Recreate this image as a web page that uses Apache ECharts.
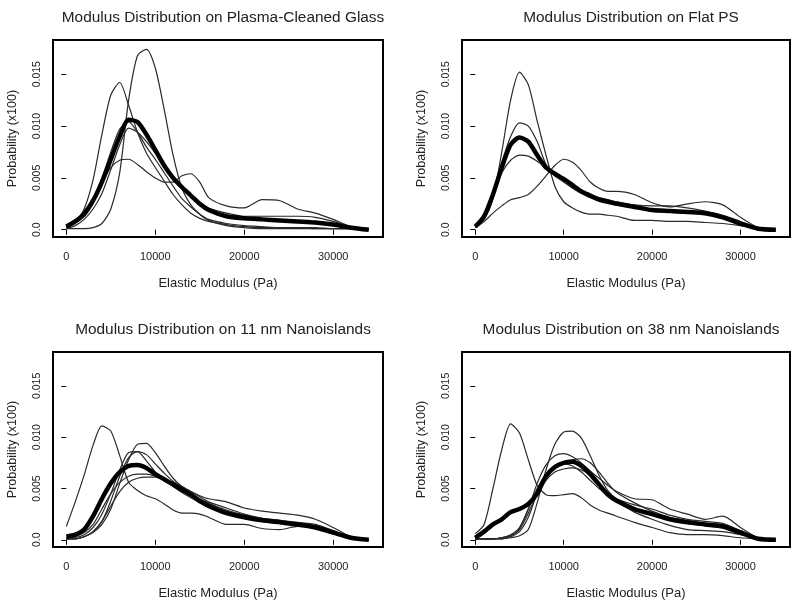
<!DOCTYPE html>
<html>
<head>
<meta charset="utf-8">
<script src="https://cdn.jsdelivr.net/npm/echarts@6/dist/echarts.min.js"></script>
<style>html,body{margin:0;padding:0;background:#fff}#c{width:800px;height:607px}</style>
</head>
<body>
<div id="c"></div>
<script>
// ---- data ----
const xs = [0,1000,2000,3000,4000,5000,6000,7000,8000,9000,10000,11000,12000,13000,14000,15000,16000,18000,20000,22000,24000,26000,28000,30000,32000,34000];
const xTicks = [0,10000,20000,30000];
const yTicks = [0,0.005,0.010,0.015];
const titles = ["Modulus Distribution on Plasma-Cleaned Glass","Modulus Distribution on Flat PS","Modulus Distribution on 11 nm Nanoislands","Modulus Distribution on 38 nm Nanoislands"];
const xName = "Elastic Modulus (Pa)";
const yName = "Probability (x100)";

// Panel 1: Plasma-cleaned glass
const p1A = [0.0001,0.0001,0.0001,0.0002,0.0006,0.0020,0.0055,0.0125,0.0168,0.0174,0.0156,0.0116,0.0072,0.0040,0.0024,0.0015,0.0009,0.0004,0.0002,0.0001,0.0001,0.0001,0.0001,0.0001,0.0001,0.0000];
const p1B = [0.0002,0.0008,0.0020,0.0048,0.0092,0.0130,0.0142,0.0120,0.0094,0.0074,0.0060,0.0047,0.0034,0.0024,0.0016,0.0011,0.0008,0.0005,0.0003,0.0002,0.0002,0.0002,0.0001,0.0001,0.0001,0.0000];
const p1C = [0.0003,0.0009,0.0018,0.0030,0.0046,0.0060,0.0067,0.0068,0.0063,0.0056,0.0050,0.0046,0.0046,0.0052,0.0054,0.0046,0.0031,0.0023,0.0021,0.0029,0.0028,0.0020,0.0016,0.0010,0.0003,0.0001];
const p1D = [0.0002,0.0007,0.0016,0.0030,0.0050,0.0075,0.0097,0.0104,0.0094,0.0080,0.0068,0.0055,0.0042,0.0030,0.0022,0.0015,0.0010,0.0006,0.0004,0.0003,0.0002,0.0002,0.0002,0.0001,0.0001,0.0000];
const p1E = [0.0001,0.0004,0.0010,0.0020,0.0035,0.0058,0.0082,0.0098,0.0094,0.0085,0.0074,0.0063,0.0052,0.0042,0.0033,0.0026,0.0021,0.0016,0.0013,0.0013,0.0013,0.0013,0.0012,0.0008,0.0003,0.0001];
const p1M = [0.0003,0.0008,0.0015,0.0028,0.0046,0.0068,0.0090,0.0106,0.0104,0.0092,0.0077,0.0062,0.0050,0.0041,0.0033,0.0025,0.0019,0.0013,0.0011,0.0010,0.0009,0.0008,0.0007,0.0005,0.0002,0.0000];

// Panel 2: Flat PS
const p2A = [0.0003,0.0010,0.0030,0.0075,0.0125,0.0152,0.0140,0.0105,0.0072,0.0042,0.0027,0.0021,0.0017,0.0015,0.0015,0.0014,0.0013,0.0009,0.0009,0.0008,0.0008,0.0007,0.0006,0.0004,0.0001,0.0000];
const p2B = [0.0003,0.0012,0.0035,0.0065,0.0090,0.0103,0.0100,0.0085,0.0063,0.0052,0.0046,0.0040,0.0035,0.0031,0.0028,0.0026,0.0024,0.0021,0.0019,0.0017,0.0016,0.0016,0.0013,0.0006,0.0002,0.0000];
const p2C = [0.0003,0.0014,0.0036,0.0055,0.0067,0.0072,0.0071,0.0066,0.0060,0.0054,0.0049,0.0044,0.0038,0.0034,0.0031,0.0029,0.0027,0.0024,0.0023,0.0023,0.0021,0.0018,0.0014,0.0008,0.0002,0.0000];
const p2D = [0.0002,0.0008,0.0016,0.0023,0.0029,0.0031,0.0034,0.0042,0.0052,0.0062,0.0068,0.0065,0.0057,0.0046,0.0040,0.0037,0.0037,0.0034,0.0026,0.0022,0.0025,0.0027,0.0024,0.0012,0.0002,0.0000];
const p2M = [0.0003,0.0013,0.0034,0.0060,0.0082,0.0089,0.0085,0.0072,0.0060,0.0054,0.0049,0.0043,0.0037,0.0033,0.0029,0.0027,0.0025,0.0022,0.0019,0.0018,0.0017,0.0016,0.0012,0.0006,0.0001,0.0000];

// Panel 3: 11 nm nanoislands
const p3A = [0.0013,0.0037,0.0063,0.0092,0.0111,0.0106,0.0082,0.0056,0.0048,0.0043,0.0040,0.0035,0.0029,0.0026,0.0026,0.0025,0.0022,0.0015,0.0015,0.0011,0.0010,0.0013,0.0011,0.0006,0.0001,0.0000];
const p3B = [0.0001,0.0001,0.0003,0.0007,0.0015,0.0030,0.0055,0.0078,0.0093,0.0094,0.0085,0.0072,0.0060,0.0052,0.0047,0.0043,0.0040,0.0037,0.0031,0.0028,0.0026,0.0024,0.0020,0.0012,0.0003,0.0000];
const p3C = [0.0001,0.0002,0.0005,0.0012,0.0025,0.0045,0.0068,0.0085,0.0086,0.0077,0.0066,0.0058,0.0052,0.0046,0.0041,0.0036,0.0032,0.0026,0.0021,0.0018,0.0016,0.0014,0.0012,0.0007,0.0002,0.0000];
const p3D = [0.0001,0.0001,0.0003,0.0008,0.0018,0.0038,0.0062,0.0080,0.0086,0.0083,0.0074,0.0065,0.0057,0.0051,0.0045,0.0039,0.0035,0.0029,0.0024,0.0020,0.0018,0.0016,0.0014,0.0009,0.0002,0.0000];
const p3E = [0.0002,0.0003,0.0007,0.0015,0.0030,0.0045,0.0056,0.0062,0.0064,0.0064,0.0062,0.0058,0.0054,0.0049,0.0045,0.0040,0.0036,0.0028,0.0024,0.0021,0.0019,0.0016,0.0013,0.0008,0.0002,0.0000];
const p3F = [0.0001,0.0001,0.0003,0.0008,0.0018,0.0033,0.0047,0.0056,0.0060,0.0061,0.0061,0.0059,0.0056,0.0052,0.0047,0.0042,0.0037,0.0031,0.0025,0.0021,0.0019,0.0017,0.0015,0.0009,0.0002,0.0000];
const p3M = [0.0003,0.0005,0.0010,0.0023,0.0040,0.0055,0.0066,0.0072,0.0073,0.0070,0.0064,0.0059,0.0054,0.0049,0.0044,0.0038,0.0033,0.0026,0.0022,0.0019,0.0017,0.0015,0.0012,0.0007,0.0002,0.0000];

// Panel 4: 38 nm nanoislands
const p4A = [0.0006,0.0015,0.0050,0.0088,0.0113,0.0104,0.0078,0.0053,0.0044,0.0043,0.0044,0.0045,0.0041,0.0034,0.0029,0.0026,0.0023,0.0017,0.0012,0.0007,0.0005,0.0005,0.0004,0.0002,0.0001,0.0000];
const p4B = [0.0001,0.0001,0.0001,0.0001,0.0002,0.0004,0.0010,0.0036,0.0068,0.0093,0.0105,0.0106,0.0099,0.0082,0.0063,0.0048,0.0040,0.0034,0.0030,0.0024,0.0020,0.0018,0.0016,0.0009,0.0002,0.0000];
const p4C = [0.0001,0.0001,0.0001,0.0002,0.0005,0.0012,0.0030,0.0055,0.0073,0.0082,0.0084,0.0081,0.0075,0.0067,0.0060,0.0053,0.0047,0.0040,0.0039,0.0030,0.0025,0.0020,0.0023,0.0012,0.0002,0.0000];
const p4D = [0.0001,0.0001,0.0001,0.0001,0.0003,0.0008,0.0022,0.0045,0.0062,0.0071,0.0076,0.0078,0.0079,0.0075,0.0066,0.0055,0.0046,0.0036,0.0028,0.0022,0.0019,0.0016,0.0015,0.0009,0.0002,0.0000];
const p4E = [0.0001,0.0001,0.0001,0.0002,0.0004,0.0010,0.0026,0.0045,0.0058,0.0066,0.0069,0.0070,0.0068,0.0063,0.0055,0.0046,0.0039,0.0031,0.0025,0.0020,0.0016,0.0014,0.0013,0.0007,0.0001,0.0000];
const p4F = [0.0001,0.0001,0.0001,0.0002,0.0004,0.0011,0.0030,0.0050,0.0064,0.0072,0.0074,0.0072,0.0066,0.0058,0.0050,0.0043,0.0037,0.0027,0.0020,0.0014,0.0010,0.0009,0.0008,0.0005,0.0001,0.0000];
const p4M = [0.0002,0.0008,0.0015,0.0020,0.0027,0.0030,0.0035,0.0045,0.0062,0.0071,0.0075,0.0076,0.0072,0.0064,0.0054,0.0044,0.0038,0.0030,0.0025,0.0020,0.0017,0.0015,0.0013,0.0007,0.0001,0.0000];

const panels = [
  {thin:[p1A,p1B,p1C,p1D,p1E], mean:p1M},
  {thin:[p2A,p2B,p2C,p2D], mean:p2M},
  {thin:[p3A,p3B,p3C,p3D,p3E,p3F], mean:p3M},
  {thin:[p4A,p4B,p4C,p4D,p4E,p4F], mean:p4M}
];

// ---- layout ----
const boxes = [
  {left:53, top:40, width:330, height:197},
  {left:462, top:40, width:328, height:197},
  {left:53, top:352, width:330, height:195},
  {left:462, top:352, width:328, height:195}
];
const FONT = 'Liberation Sans, Arial, sans-serif';
const TXT = '#222';

const pairs = ys => xs.map((x,i)=>[x, ys[i]]);

const option = {
  animation:false,
  backgroundColor:'#fff',
  title: titles.map((t,i)=>({
    text:t, left: boxes[i].left + boxes[i].width/2, top: boxes[i].top - 35, textAlign:'center',
    textStyle:{fontFamily:FONT, fontSize:15.4, fontWeight:'normal', color:TXT}
  })),
  grid: boxes.map(b=>({left:b.left, top:b.top, width:b.width, height:b.height, show:true, borderColor:'#000', borderWidth:2, backgroundColor:'transparent', containLabel:false})),
  xAxis: boxes.map((b,i)=>({
    type:'value', gridIndex:i, min:-1500, max:35600,
    name:xName, nameLocation:'middle', nameGap:40,
    nameTextStyle:{fontFamily:FONT, fontSize:13, color:TXT},
    axisLine:{show:false}, splitLine:{show:false},
    axisTick:{show:true, inside:false, length:5, customValues:xTicks, lineStyle:{color:'#000', width:1}},
    axisLabel:{show:true, customValues:xTicks, margin:14, fontFamily:FONT, fontSize:11, color:TXT, formatter:v=>String(v)}
  })),
  yAxis: boxes.map((b,i)=>({
    type:'value', gridIndex:i, min:-0.0007, max:0.0183,
    name:yName, nameLocation:'middle', nameGap:34, nameRotate:90,
    nameTextStyle:{fontFamily:FONT, fontSize:12.5, color:TXT},
    axisLine:{show:false}, splitLine:{show:false},
    axisTick:{show:true, inside:false, length:5, customValues:yTicks, lineStyle:{color:'#000', width:1}},
    axisLabel:{show:true, customValues:yTicks, rotate:90, margin:10, fontFamily:FONT, fontSize:10.5, color:TXT,
      formatter:v=> v===0 ? '0.0' : v.toFixed(3)}
  })),
  series: []
};

panels.forEach((p,i)=>{
  p.thin.forEach(ys=>{
    option.series.push({type:'line', xAxisIndex:i, yAxisIndex:i, data:pairs(ys), showSymbol:false, smooth:0.25,
      lineStyle:{color:'#2a2a2a', width:1.2}, silent:true});
  });
  option.series.push({type:'line', xAxisIndex:i, yAxisIndex:i, data:pairs(p.mean), showSymbol:false, smooth:0.25,
    lineStyle:{color:'#000', width:4.5}, silent:true, z:3});
});

const chart = echarts.init(document.getElementById('c'), null, {renderer:'canvas'});
chart.setOption(option);
</script>
</body>
</html>
